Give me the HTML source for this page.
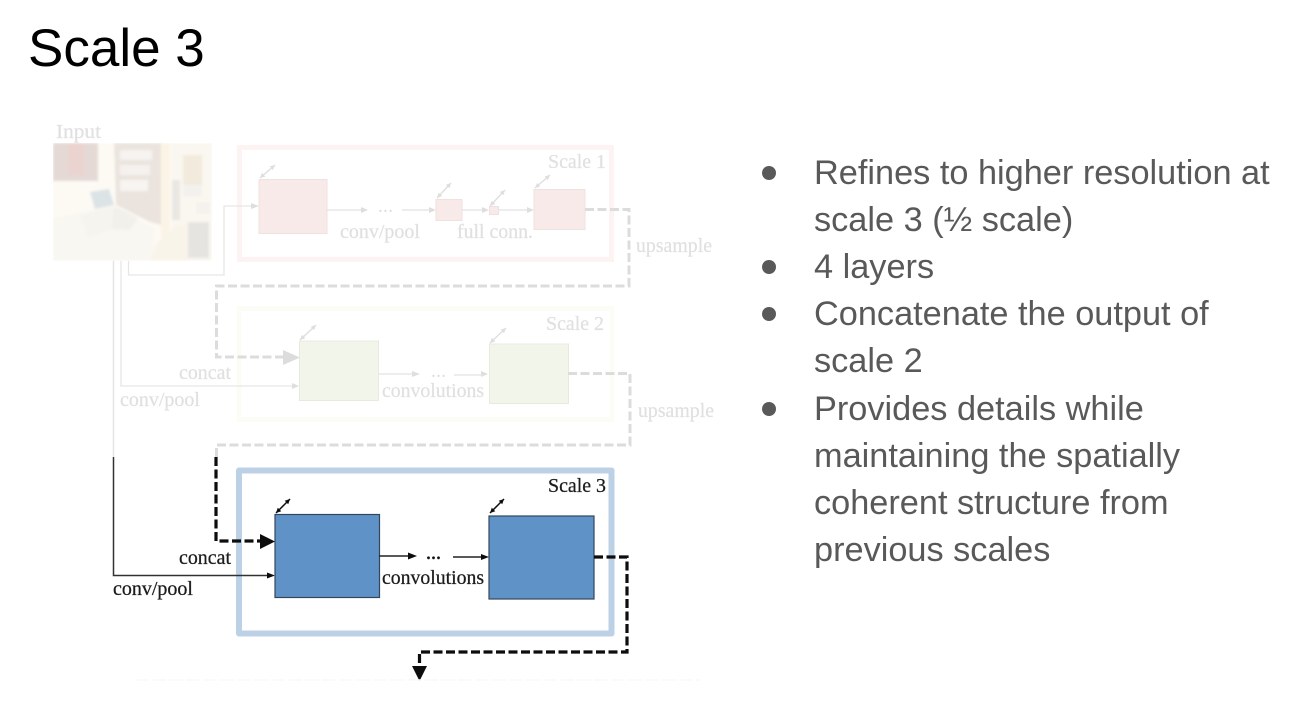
<!DOCTYPE html>
<html><head><meta charset="utf-8">
<style>
html,body{margin:0;padding:0;background:#fff;width:1294px;height:703px;overflow:hidden}
svg{position:absolute;left:0;top:0}
.t{position:absolute;font-family:"Liberation Sans",sans-serif;white-space:nowrap}
.b{color:#595959;font-size:34.3px;line-height:47.3px;left:814px}
.d{position:absolute;left:762px;width:14px;height:14px;border-radius:50%;background:#595959}
text{font-family:"Liberation Serif",serif}
</style></head><body>
<svg width="1294" height="703" viewBox="0 0 1294 703">
<defs>
<filter id="bl" x="-5%" y="-5%" width="110%" height="110%"><feGaussianBlur stdDeviation="1.3"/></filter>
<filter id="soft" x="0" y="0" width="100%" height="100%" filterUnits="userSpaceOnUse" primitiveUnits="userSpaceOnUse"><feGaussianBlur stdDeviation="0.35"/></filter>
<clipPath id="ph"><rect x="53" y="143" width="159" height="118"/></clipPath>
<marker id="mg" markerWidth="6" markerHeight="5" refX="5" refY="2.500" orient="auto-start-reverse" markerUnits="userSpaceOnUse"><polygon points="0,0 5,2.500 0,5" fill="#dedede"/></marker>
<marker id="mk" markerWidth="6" markerHeight="5" refX="5" refY="2.500" orient="auto-start-reverse" markerUnits="userSpaceOnUse"><polygon points="0,0 5,2.500 0,5" fill="#111"/></marker>
</defs>
<g filter="url(#soft)">
<!-- photo -->
<g clip-path="url(#ph)"><g filter="url(#bl)">
<rect x="53" y="143" width="159" height="118" fill="#fdfaf4"/>
<rect x="53" y="143" width="45" height="38" fill="#e4d9d5"/>
<rect x="68" y="143" width="16" height="32" fill="#ebd3d0"/>
<polygon points="114,143 161,143 161,225 150,222 116,205" fill="#ebe4de"/>
<rect x="120" y="150" width="32" height="10" fill="#f6f3f0"/>
<rect x="120" y="165" width="30" height="10" fill="#f5f1ee"/>
<rect x="120" y="180" width="28" height="11" fill="#f7f4f1"/>
<rect x="161" y="143" width="9" height="98" fill="#fbf4e6"/>
<rect x="172" y="143" width="40" height="118" fill="#faf7f0"/>
<rect x="183" y="155" width="19" height="30" fill="#f2ebdd"/>
<rect x="183" y="185" width="19" height="12" fill="#f3f1ed"/>
<rect x="172" y="180" width="8" height="40" fill="#eae7e3"/>
<polygon points="90,192 109,189 114,205 95,209" fill="#dbe3e6"/>
<polygon points="53,218 113,206 154,228 152,261 53,261" fill="#f9f7f1"/>
<polygon points="80,215 113,206 118,228 88,237" fill="#f6f4ee"/>
<polygon points="114,206 138,218 130,230 112,229" fill="#f2f0ea"/>
<polygon points="156,244 176,226 190,222 190,261 150,261" fill="#f9f4ea"/>
<rect x="188" y="222" width="21" height="36" fill="#e6e4e1"/>
<rect x="196" y="202" width="14" height="12" fill="#f4f2ee"/>
</g></g>
<!-- frames -->
<rect x="239.500" y="147.500" width="372" height="112" fill="#fff" stroke="#fdf3f3" stroke-width="5"/>
<rect x="239" y="308.500" width="373" height="111" fill="#fff" stroke="#fcfcf6" stroke-width="5"/>
<rect x="239" y="470.500" width="372.500" height="163" fill="#fff" stroke="#bcd0e6" stroke-width="6" stroke-linejoin="round"/>
<!-- input lines -->
<g fill="none" stroke="#e6e6e6" stroke-width="1.300">
<path d="M128.500 261V275H224V206H252"/>
<path d="M121 261V386H292"/>
</g>
<path d="M113.500 261V457" stroke="#e6e6e6" stroke-width="1.500" fill="none"/>
<path d="M113.500 457V575.500H268" stroke="#333" stroke-width="1.500" fill="none"/>
<g fill="#dedede">
<polygon points="259,206 251,203 251,209"/>
<polygon points="299,386 292,383 292,389"/>
<polygon points="436,210 429,207 429,213"/>
<polygon points="489,210 482,207 482,213"/>
<polygon points="534,210 527,207 527,213"/>
<polygon points="368,210 361,207 361,213"/>
<polygon points="420,374 412,371 412,377"/>
<polygon points="488,374 481,371 481,377"/>
</g>
<polygon points="275,575.500 267,572.500 267,578.500" fill="#111"/>
<!-- scale 1 boxes -->
<g fill="#f8eae9" stroke="#eee2e1" stroke-width="1">
<rect x="259" y="179.500" width="68" height="54"/>
<rect x="436" y="199.500" width="26" height="21"/>
<rect x="489.500" y="206.500" width="9" height="8"/>
<rect x="534" y="189.500" width="51" height="40"/>
</g>
<g stroke="#e2e2e2" stroke-width="1.300" fill="none">
<path d="M327 210H361M402 210H430M462 210H483M498 210H528"/>
<path d="M378 374H414M454 375H484"/>
</g>
<g stroke="#dedede" stroke-width="1.300" fill="none">
<path d="M260 178L275 165" marker-start="url(#mg)" marker-end="url(#mg)"/>
<path d="M437 198L451 183" marker-start="url(#mg)" marker-end="url(#mg)"/>
<path d="M490 206L505 190" marker-start="url(#mg)" marker-end="url(#mg)"/>
<path d="M535 188L550 175" marker-start="url(#mg)" marker-end="url(#mg)"/>
<path d="M300 340L316 325" marker-start="url(#mg)" marker-end="url(#mg)"/>
<path d="M490 343L506 328" marker-start="url(#mg)" marker-end="url(#mg)"/>
</g>
<!-- scale 2 boxes -->
<g fill="#f2f5ea" stroke="#e8eae0" stroke-width="1">
<rect x="299.500" y="341" width="79" height="59.500"/>
<rect x="489.500" y="344" width="79" height="59.500"/>
</g>
<!-- scale 3 boxes -->
<g fill="#5e93c8" stroke="#33475c" stroke-width="1.200">
<rect x="275" y="514.500" width="104.500" height="83"/>
<rect x="489" y="516" width="105" height="83"/>
</g>
<!-- dashed grey -->
<g fill="none" stroke="#dcdcdc" stroke-width="3" stroke-dasharray="9 3.500">
<path d="M585 209.500H629V286H216.500V357H285"/>
<path d="M568 373.500H630V445H216.500V457"/>
</g>
<polygon points="300,357.500 283,350 283,365" fill="#dcdcdc"/>
<!-- dashed black -->
<g fill="none" stroke="#111" stroke-width="3.200" stroke-dasharray="9 3.500">
<path d="M216 457V541H262"/>
<path d="M594 557H627V652H419.500V664"/>
</g>
<polygon points="275,541.500 260,534 260,549" fill="#111"/>
<polygon points="419.500,681 412,666 427,666" fill="#111"/>
<!-- scale3 arrows -->
<g stroke="#222" stroke-width="1.500" fill="none">
<path d="M379 556H412M453 557H483"/>
</g>
<g stroke="#111" stroke-width="1.500" fill="none">
<path d="M276 513L290 499" marker-start="url(#mk)" marker-end="url(#mk)"/>
<path d="M490 513L504 499" marker-start="url(#mk)" marker-end="url(#mk)"/>
</g>
<g fill="#111">
<polygon points="417,556 408,552.500 408,559.500"/>
<polygon points="489,557 481,554 481,560"/>
</g>
<!-- dots -->
<text x="378" y="212" font-size="19" fill="#dcdcdc" textLength="15">...</text>
<text x="431" y="377" font-size="19" fill="#dcdcdc" textLength="15">...</text>
<text x="426" y="559" font-size="20" fill="#111" stroke="#111" stroke-width=".5" textLength="15">...</text>
<!-- labels -->
<g font-size="19.500" fill="#e0e0e0" stroke="#e0e0e0" stroke-width=".2">
<text x="56" y="138" textLength="45" lengthAdjust="spacingAndGlyphs">Input</text>
<text x="548" y="168" textLength="58" lengthAdjust="spacingAndGlyphs">Scale 1</text>
<text x="340" y="238" textLength="80" lengthAdjust="spacingAndGlyphs">conv/pool</text>
<text x="457" y="238" textLength="76" lengthAdjust="spacingAndGlyphs">full conn.</text>
<text x="636" y="252" textLength="76" lengthAdjust="spacingAndGlyphs">upsample</text>
<text x="546" y="330" textLength="58" lengthAdjust="spacingAndGlyphs">Scale 2</text>
<text x="179" y="379" textLength="52" lengthAdjust="spacingAndGlyphs">concat</text>
<text x="120" y="406" textLength="80" lengthAdjust="spacingAndGlyphs">conv/pool</text>
<text x="382" y="397" textLength="102" lengthAdjust="spacingAndGlyphs">convolutions</text>
<text x="638" y="417" textLength="76" lengthAdjust="spacingAndGlyphs">upsample</text>
</g>
<g font-size="19.500" fill="#1c1c1c" stroke="#1c1c1c" stroke-width=".25">
<text x="548" y="492" textLength="58" lengthAdjust="spacingAndGlyphs">Scale 3</text>
<text x="179" y="564" textLength="52" lengthAdjust="spacingAndGlyphs">concat</text>
<text x="113" y="595" textLength="80" lengthAdjust="spacingAndGlyphs">conv/pool</text>
<text x="382" y="584" textLength="102" lengthAdjust="spacingAndGlyphs">convolutions</text>
</g>
<path d="M135 680H700" stroke="#f8f8f8" stroke-width="1.500" stroke-dasharray="14 3"/>
</g>
</svg>
<div class="t" style="left:28px;top:18px;font-size:53px;line-height:62px;color:#000">Scale 3</div>
<div class="d" style="top:166px"></div>
<div class="d" style="top:260px"></div>
<div class="d" style="top:307px"></div>
<div class="d" style="top:402px"></div>
<div class="t b" style="top:150px">Refines to higher resolution at</div>
<div class="t b" style="top:197px">scale 3 (½ scale)</div>
<div class="t b" style="top:244px">4 layers</div>
<div class="t b" style="top:291px">Concatenate the output of</div>
<div class="t b" style="top:338px">scale 2</div>
<div class="t b" style="top:386px">Provides details while</div>
<div class="t b" style="top:433px">maintaining the spatially</div>
<div class="t b" style="top:480px">coherent structure from</div>
<div class="t b" style="top:527px">previous scales</div>
</body></html>
